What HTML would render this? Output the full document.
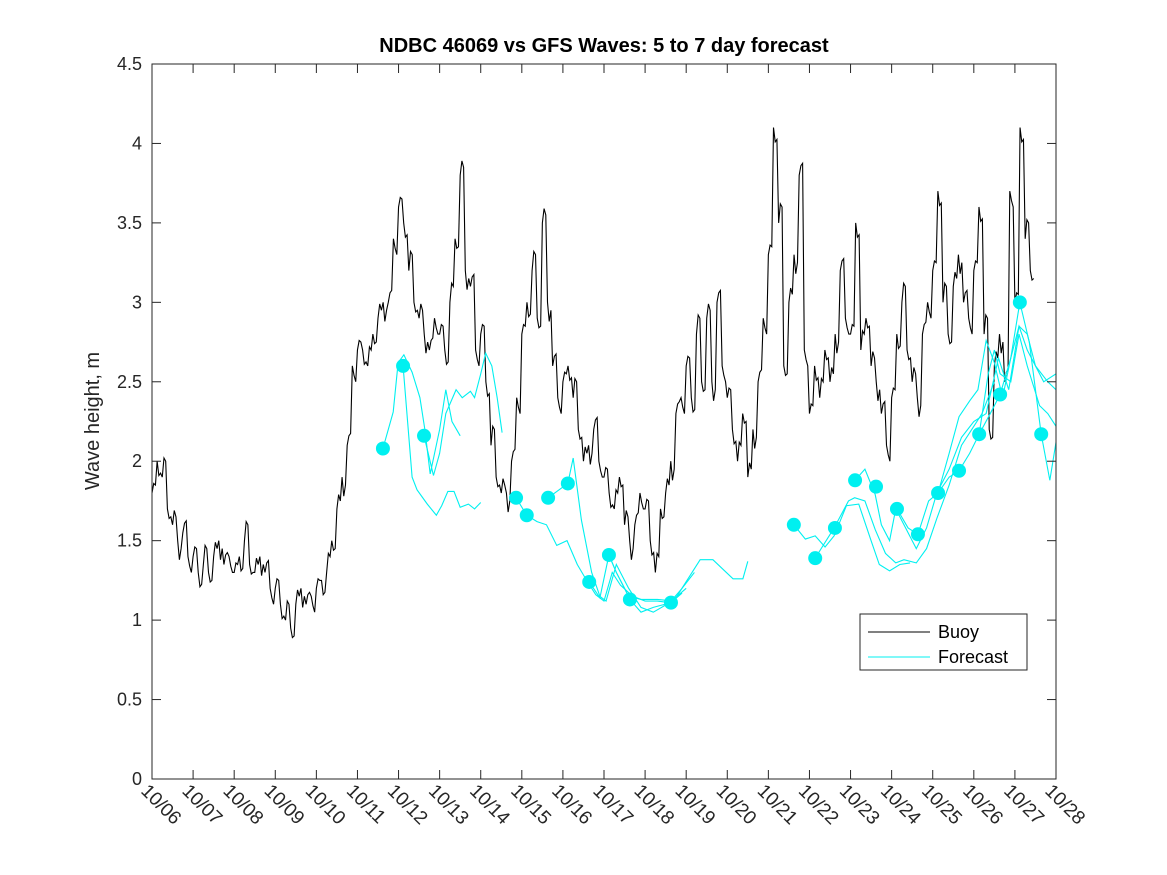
<!DOCTYPE html>
<html><head><meta charset="utf-8"><style>
body{margin:0;background:#fff}
svg{display:block;font-family:"Liberation Sans","DejaVu Sans",sans-serif}
</style></head><body>
<svg id="c" width="1167" height="875"></svg>
<script>
const tickLabels=["10/06","10/07","10/08","10/09","10/10","10/11","10/12","10/13","10/14","10/15","10/16","10/17","10/18","10/19","10/20","10/21","10/22","10/23","10/24","10/25","10/26","10/27","10/28"];
const yTicks=[0,0.5,1,1.5,2,2.5,3,3.5,4,4.5];
// buoy: 3-hourly values starting day 0 (10/06)
const buoy=[1.8,2.0,1.9,1.7,1.6,1.5,1.55,1.4,
1.4,1.3,1.35,1.3,1.4,1.5,1.35,1.4,
1.3,1.4,1.5,1.35,1.3,1.4,1.3,1.2,
1.2,1.1,1.0,0.95,1.1,1.2,1.1,1.15,
1.2,1.25,1.3,1.5,1.7,1.9,2.1,2.6,
2.7,2.7,2.6,2.8,2.9,3.0,3.0,3.4,
3.6,3.5,3.2,3.0,2.9,2.8,2.7,2.9,
2.8,2.7,3.0,3.4,3.8,3.2,3.1,2.7,
2.8,2.5,2.1,1.9,1.8,1.8,2.0,2.4,
2.8,3.0,3.2,2.9,3.5,3.0,2.6,2.4,
2.5,2.6,2.4,2.2,2.0,2.1,2.2,2.0,
1.9,1.8,1.7,1.9,1.6,1.5,1.6,1.8,
1.7,1.5,1.3,1.7,1.8,2.0,2.3,2.4,
2.6,2.4,2.8,2.5,2.9,2.5,3.0,2.6,
2.4,2.2,2.0,2.3,1.9,2.2,2.5,2.9,
3.3,4.1,3.5,2.6,3.0,3.3,3.8,2.7,
2.3,2.6,2.4,2.7,2.5,2.8,3.2,2.9,
2.8,3.5,2.7,2.9,2.6,2.5,2.3,2.1,
2.4,2.8,3.0,2.7,2.5,2.4,2.8,3.0,
3.2,3.7,3.0,2.8,3.1,3.3,3.0,2.9,
3.2,3.6,2.8,2.2,2.6,2.8,2.5,3.7,
3.0,4.1,3.4,3.2];
const buoyJitter=[0.1,-0.15,0.2,-0.1,0.15,-0.2,0.1,-0.1];
// forecast runs (day, value)
const fcDays=[
[5.62,5.87,5.99,6.13,6.33,6.52,6.64,6.77,7.0,7.15,7.3,7.5],
[6.11,6.33,6.45,6.7,6.92,7.05,7.2,7.35,7.5,7.7,7.85,8.0],
[6.62,6.85,7.0,7.15,7.4,7.55,7.75,7.85,8.0,8.12,8.27,8.4,8.52],
[8.86,9.12,9.37,9.6,9.85,10.1,10.35,10.6,10.8,11.0,11.2,11.4,11.7,12.0,12.3,12.6,13.0],
[9.64,10.12,10.25,10.45,10.7,10.9,11.05,11.3,11.6,11.9,12.2,12.6,12.9,13.2],
[10.64,10.9,11.12,11.3,11.6,11.9,12.3,12.7,13.34,13.65,14.14,14.38,14.5],
[11.12,11.3,11.5,11.63,11.9,12.2,12.63,12.9],
[15.62,15.9,16.14,16.38,16.6,16.9,17.2,17.5,17.7,17.95,18.2,18.45],
[16.14,16.6,16.95,17.1,17.35,17.6,17.85,18.1,18.3,18.6,18.85,19.1,19.4,19.7,20.0,20.2,20.5],
[17.11,17.35,17.6,17.75,17.95,18.1,18.3,18.6,18.85,19.1,19.4,19.7,20.0,20.3,20.6,20.85,21.1,21.3,21.5,21.8,22.0],
[18.13,18.4,18.64,18.9,19.13,19.4,19.64,19.9,20.13,20.4,20.64,20.9,21.12,21.35,21.64,21.85,22.0],
[19.13,19.4,19.64,19.9,20.1,20.3,20.5,20.7,20.9,21.1,21.3,21.5,21.7,22.0],
[20.13,20.35,20.5,20.64,20.9,21.1,21.3,21.6,21.8,22.0]];
const fcVals=[
[2.08,2.31,2.62,2.67,2.56,2.4,2.2,1.92,2.2,2.45,2.25,2.16],
[2.6,1.9,1.82,1.73,1.66,1.72,1.81,1.81,1.71,1.73,1.7,1.74],
[2.16,1.91,2.05,2.3,2.45,2.4,2.44,2.4,2.55,2.68,2.6,2.4,2.18],
[1.77,1.66,1.62,1.6,1.47,1.5,1.35,1.24,1.16,1.12,1.3,1.22,1.15,1.12,1.12,1.11,1.2],
[1.77,1.86,2.02,1.63,1.3,1.15,1.12,1.35,1.2,1.08,1.05,1.11,1.2,1.3],
[1.24,1.14,1.41,1.3,1.15,1.13,1.13,1.12,1.38,1.38,1.26,1.26,1.37],
[1.41,1.3,1.2,1.13,1.05,1.08,1.11,1.17],
[1.60,1.51,1.53,1.46,1.53,1.72,1.73,1.5,1.35,1.31,1.35,1.36],
[1.39,1.58,1.75,1.77,1.75,1.57,1.42,1.36,1.38,1.36,1.45,1.64,1.85,2.1,2.22,2.3,2.5],
[1.88,1.95,1.79,1.6,1.5,1.7,1.6,1.45,1.58,1.8,1.95,2.15,2.25,2.3,2.65,2.45,2.85,2.8,2.6,2.5,2.45],
[1.70,1.58,1.54,1.75,1.80,1.9,1.94,2.05,2.17,2.3,2.42,2.65,3.0,2.75,2.17,1.88,2.12],
[1.8,2.05,2.28,2.38,2.45,2.76,2.62,2.4,2.65,2.85,2.7,2.6,2.5,2.55],
[2.17,2.55,2.7,2.55,2.5,2.8,2.6,2.35,2.3,2.22]];
const dotDays=[5.62,6.11,6.62,8.86,9.12,9.64,10.12,10.64,11.12,11.63,12.63,15.62,16.14,16.62,17.11,17.62,18.13,18.64,19.13,19.64,20.13,20.64,21.12,21.64];
const dotVals=[2.08,2.60,2.16,1.77,1.66,1.77,1.86,1.24,1.41,1.13,1.11,1.60,1.39,1.58,1.88,1.84,1.70,1.54,1.80,1.94,2.17,2.42,3.00,2.17];

const L=152,R=1056,T=64,B=779;
const X=d=>L+(R-L)*d/22, Y=v=>B-(B-T)*v/4.5;
const NS="http://www.w3.org/2000/svg", svg=document.getElementById('c');
function mk(t,a,p){const e=document.createElementNS(NS,t);for(const k in a)e.setAttribute(k,a[k]);(p||svg).appendChild(e);return e;}
const clip=mk('clipPath',{id:'pc'});mk('rect',{x:L,y:T,width:R-L,height:B-T},clip);
let e=mk('rect',{x:L,y:T,width:R-L,height:B-T,fill:'#fff',stroke:'none'});


const g=mk('g',{'clip-path':'url(#pc)'});
// buoy
let pts=[];
buoy.forEach((v,i)=>{const d=i/8;const v1=v+buoyJitter[i%8]*0.6;pts.push(X(d)+','+Y(v));pts.push(X(d+1/24)+','+Y(v1));pts.push(X(d+2/24)+','+Y(v-buoyJitter[(i+3)%8]*0.5));});
e=mk('polyline',{points:pts.join(' '),fill:'none',stroke:'#000','stroke-width':1.1},g);


fcDays.forEach((ds,k)=>{
 e=mk('polyline',{points:ds.map((d,i)=>X(d)+','+Y(fcVals[k][i])).join(' '),fill:'none',stroke:'#00f0f0','stroke-width':1.1},g);
 
 
});
dotDays.forEach((d,i)=>{
 e=mk('circle',{cx:X(d),cy:Y(dotVals[i]),r:7,fill:'#00f0f0'},g);
 
 
});
// axes box
e=mk('rect',{x:L,y:T,width:R-L,height:B-T,fill:'none',stroke:'#262626','stroke-width':1});


yTicks.forEach(v=>{
 mk('line',{x1:L,x2:L+9,y1:Y(v),y2:Y(v),stroke:'#262626'});
 mk('line',{x1:R-9,x2:R,y1:Y(v),y2:Y(v),stroke:'#262626'});
 e=mk('text',{x:L-10,y:Y(v)+6,'text-anchor':'end','font-size':18,fill:'#262626'});e.textContent=String(v);
 
 
});
tickLabels.forEach((t,i)=>{
 const x=X(i);
 mk('line',{x1:x,x2:x,y1:B,y2:B-9,stroke:'#262626'});
 mk('line',{x1:x,x2:x,y1:T,y2:T+9,stroke:'#262626'});
 e=mk('text',{x:x-12,y:B+13,'font-size':19,fill:'#262626',transform:`rotate(45 ${x-12} ${B+13})`});e.textContent=t;
 
 
});
e=mk('text',{x:604,y:52,'text-anchor':'middle','font-size':20,'font-weight':'bold',fill:'#000'});e.textContent='NDBC 46069 vs GFS Waves: 5 to 7 day forecast';


e=mk('text',{x:99,y:421,'text-anchor':'middle','font-size':20,fill:'#262626',transform:'rotate(-90 99 421)'});e.textContent='Wave height, m';


// legend
const lg=mk('g',{});


mk('rect',{x:860,y:614,width:167,height:56,fill:'#fff',stroke:'#262626'},lg);
mk('line',{x1:868,x2:930,y1:632,y2:632,stroke:'#000'},lg);
mk('line',{x1:868,x2:930,y1:657,y2:657,stroke:'#00f0f0'},lg);
e=mk('text',{x:938,y:638,'font-size':18,fill:'#000'},lg);e.textContent='Buoy';


e=mk('text',{x:938,y:663,'font-size':18,fill:'#000'},lg);e.textContent='Forecast';


</script>
</body></html>
